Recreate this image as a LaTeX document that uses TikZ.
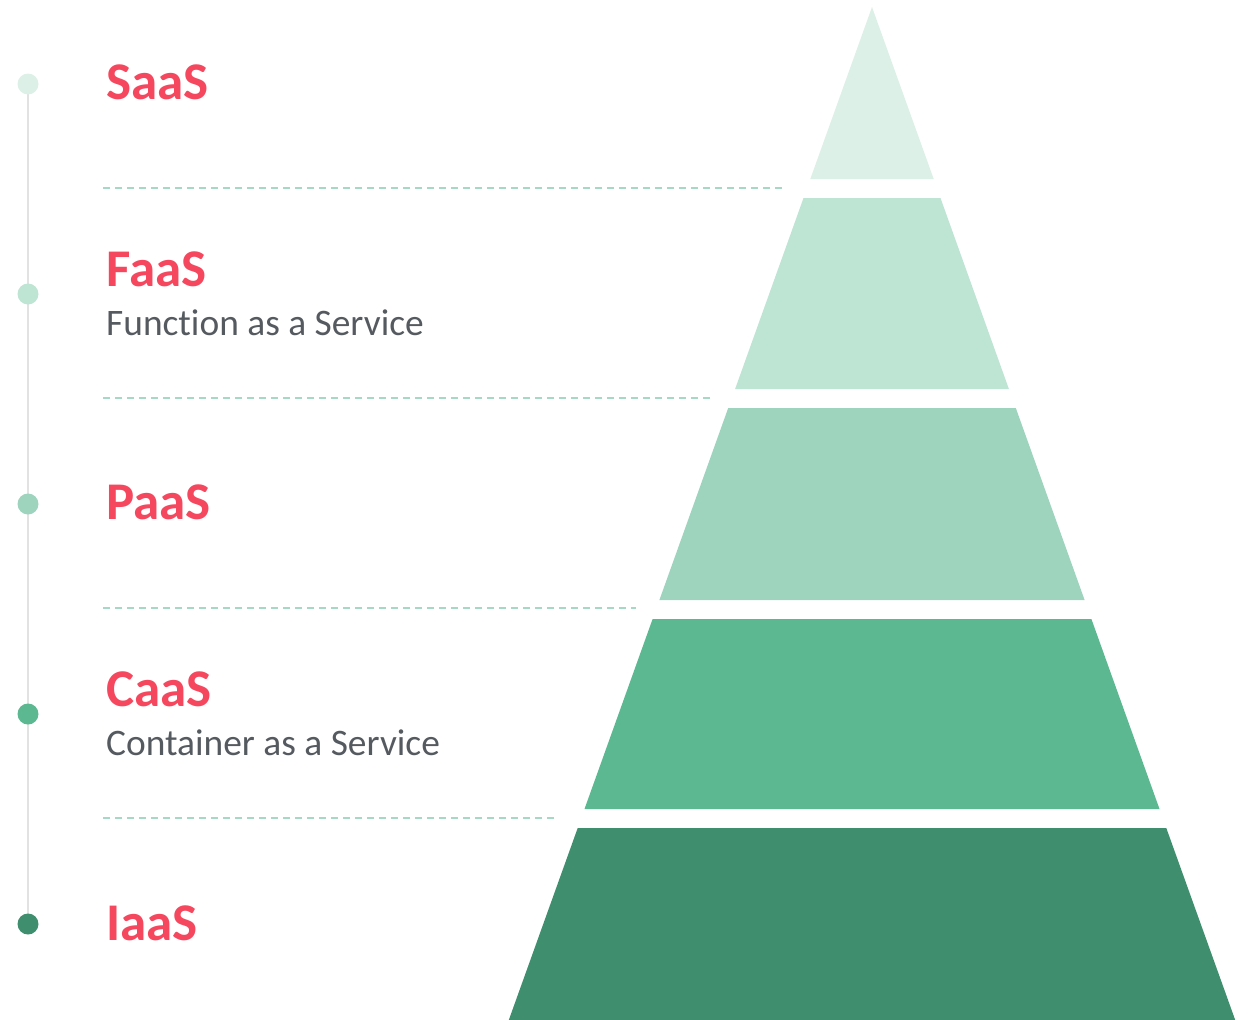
\documentclass[tikz,border=0pt]{standalone}
\usepackage{fontspec}
\setmainfont[Ligatures=NoCommon]{Carlito}
\definecolor{c1}{HTML}{DDF0E7}
\definecolor{c2}{HTML}{BEE4D4}
\definecolor{c3}{HTML}{9ED4BE}
\definecolor{c4}{HTML}{5BB891}
\definecolor{c5}{HTML}{3F8F6F}
\definecolor{titlered}{HTML}{F5485E}
\definecolor{subgray}{HTML}{555A60}
\definecolor{dashc}{HTML}{A6D9C5}
\definecolor{linegray}{HTML}{E2E2E2}
\begin{document}
\begin{tikzpicture}[x=1pt,y=-1pt,
  title/.style={anchor=base west,inner sep=0pt,text=titlered,font=\fontsize{53}{53}\selectfont\bfseries},
  subtitle/.style={anchor=base west,inner sep=0pt,text=subgray,font=\fontsize{37.4}{37.4}\selectfont},
  sep/.style={draw=dashc,line width=1.3pt,dash pattern=on 7pt off 5pt},
  dot/.style={circle,inner sep=0pt,minimum size=21pt}]
\useasboundingbox (0,0) rectangle (1248,1020);
% timeline
\coordinate (ltop) at (28,84);
\coordinate (lbot) at (28,924);
\draw[linegray,line width=2pt] (ltop) -- (lbot);
\node[dot,fill=c1] (d1) at (28,84) {};
\node[dot,fill=c2] (d2) at (28,294) {};
\node[dot,fill=c3] (d3) at (28,504) {};
\node[dot,fill=c4] (d4) at (28,714) {};
\node[dot,fill=c5] (d5) at (28,924) {};
% pyramid
\fill[c1] (872,7) -- (933.7,179) -- (810.3,179) -- cycle;
\fill[c2] (803.5,198) -- (940.5,198) -- (1008.9,389) -- (735.1,389) -- cycle;
\fill[c3] (728.2,408) -- (1015.8,408) -- (1084.6,600) -- (659.4,600) -- cycle;
\fill[c4] (652.6,619) -- (1091.4,619) -- (1159.5,809) -- (584.5,809) -- cycle;
\fill[c5] (577.7,828) -- (1166.3,828) -- (1235.2,1020) -- (508.8,1020) -- cycle;
% separators
\coordinate (s1a) at (103,188); \coordinate (s1b) at (783,188);
\coordinate (s2a) at (103,398); \coordinate (s2b) at (710,398);
\coordinate (s3a) at (103,608); \coordinate (s3b) at (636,608);
\coordinate (s4a) at (103,818); \coordinate (s4b) at (555,818);
\draw[sep] (s1a) -- (s1b);
\draw[sep] (s2a) -- (s2b);
\draw[sep] (s3a) -- (s3b);
\draw[sep] (s4a) -- (s4b);
% labels
\node[title] (t1) at (106,99) {SaaS};
\node[title] (t2) at (106,286) {FaaS};
\node[subtitle] (u2) at (106,335) {Function as a Service};
\node[title] (t3) at (106,519) {PaaS};
\node[title] (t4) at (106,706) {CaaS};
\node[subtitle] (u4) at (106,755) {Container as a Service};
\node[title] (t5) at (106,940) {IaaS};
\end{tikzpicture}
\end{document}
